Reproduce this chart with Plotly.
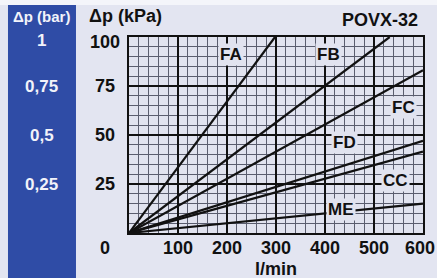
import plotly.graph_objects as go

# ---- data ----
series_names = ["FA", "FB", "FC", "FD", "CC", "ME"]
flow_FA = [0, 298]; dp_FA = [0, 100]
flow_FB = [0, 532]; dp_FB = [0, 100]
flow_FC = [0, 600]; dp_FC = [0, 83]
flow_FD = [0, 600]; dp_FD = [0, 47]
flow_CC = [0, 600]; dp_CC = [0, 41.5]
flow_ME = [0, 600]; dp_ME = [0, 15]

x_ticks = [100, 200, 300, 400, 500, 600]
x_tick_labels = ["100", "200", "300", "400", "500", "600"]
kpa_ticks = [100, 75, 50, 25, 0]
kpa_labels = ["100", "75", "50", "25", "0"]
bar_labels = ["1", "0,75", "0,5", "0,25"]

label_pos = {  # label anchor positions (flow, dp)
    "FA": (208, 91), "FB": (408, 91), "FC": (561, 64),
    "FD": (439, 46), "CC": (543, 27), "ME": (433, 12),
}

BG = "#E3E5F1"
PLOT_BG = "#E1E3EF"
BLUE = "#2F4CA6"
FONT = "Liberation Sans, Arial, sans-serif"

fig = go.Figure()
flows = [flow_FA, flow_FB, flow_FC, flow_FD, flow_CC, flow_ME]
dps = [dp_FA, dp_FB, dp_FC, dp_FD, dp_CC, dp_ME]
for name, fx, dy in zip(series_names, flows, dps):
    fig.add_trace(go.Scatter(x=fx, y=dy, mode="lines", name=name,
                             line=dict(color="#111111", width=2.2),
                             showlegend=False, hoverinfo="skip"))

annotations = []
for name in series_names:
    lx, ly = label_pos[name]
    annotations.append(dict(x=lx, y=ly, xref="x", yref="y", text="<b>%s</b>" % name,
                            showarrow=False, bgcolor=PLOT_BG, borderpad=1,
                            font=dict(family=FONT, size=17, color="#111111")))

# x tick labels (flow)
for v, t in zip(x_ticks, x_tick_labels):
    xs = -3 if v == 600 else 0
    annotations.append(dict(x=v, y=0, xref="x", yref="y", text="<b>%s</b>" % t,
                            showarrow=False, xanchor="center", yanchor="middle",
                            yshift=-15, xshift=xs,
                            font=dict(family=FONT, size=18, color="#111111")))

# kPa tick labels (left of the axis)
for v, t in zip(kpa_ticks, kpa_labels):
    shift = 0
    if v == 100:
        shift = -5
    if v == 0:
        shift = -15
    annotations.append(dict(x=-0.082, y=v, xref="paper", yref="y", text="<b>%s</b>" % t,
                            showarrow=False, xanchor="center", yshift=shift,
                            font=dict(family=FONT, size=18, color="#111111")))
# bar labels in the blue panel
for v, t in zip(kpa_ticks[:4], bar_labels):
    shift = -3 if v == 100 else 0
    annotations.append(dict(x=-0.296, y=v, xref="paper", yref="y", text="<b>%s</b>" % t,
                            showarrow=False, xanchor="center", yshift=shift,
                            font=dict(family=FONT, size=17, color="#F2F3FA")))

annotations += [
    dict(x=-0.143, y=1.107, xref="paper", yref="paper", text="<b>Δp (kPa)</b>",
         showarrow=False, xanchor="left", yanchor="middle",
         font=dict(family=FONT, size=18, color="#111111")),
    dict(x=-0.296, y=1.107, xref="paper", yref="paper", text="<b>Δp (bar)</b>",
         showarrow=False, xanchor="center", yanchor="middle",
         font=dict(family=FONT, size=15, color="#F2F3FA")),
    dict(x=0.99, y=1.087, xref="paper", yref="paper", text="<b>POVX-32</b>",
         showarrow=False, xanchor="right", yanchor="middle",
         font=dict(family=FONT, size=18, color="#111111")),
    dict(x=300, y=-0.186, xref="x", yref="paper", text="<b>l/min</b>",
         showarrow=False, xanchor="center", yanchor="middle",
         font=dict(family=FONT, size=18, color="#111111")),
]

shapes = [
    dict(type="rect", xref="paper", yref="paper", x0=-0.5, x1=1.1, y0=1.163, y1=1.25,
         fillcolor="#F4F5FA", line=dict(width=0), layer="below"),
    dict(type="rect", xref="paper", yref="paper", x0=-0.4116, x1=-0.1803, y0=-0.3, y1=1.163,
         fillcolor=BLUE, line=dict(width=0), layer="below"),
]

fig.update_layout(
    width=437, height=278,
    margin=dict(l=129, r=14, t=37, b=45, autoexpand=False),
    paper_bgcolor=BG, plot_bgcolor=PLOT_BG,
    annotations=annotations, shapes=shapes,
    xaxis=dict(range=[0, 600], tickvals=x_ticks, showticklabels=False,
               showgrid=True, gridcolor="#111111", gridwidth=1.5,
               minor=dict(dtick=20, showgrid=True, gridcolor="#5A5D6E", gridwidth=1),
               showline=True, linecolor="#111111", linewidth=1.5, mirror=True,
               zeroline=False, ticks=""),
    yaxis=dict(range=[0, 100], dtick=25, showticklabels=False,
               showgrid=True, gridcolor="#111111", gridwidth=1.5,
               minor=dict(dtick=5, showgrid=True, gridcolor="#5A5D6E", gridwidth=1),
               showline=True, linecolor="#111111", linewidth=1.5, mirror=True,
               zeroline=False, ticks=""),
)

fig.write_html("out.html", config={"displayModeBar": False},
               post_script="document.body.style.margin='0';document.body.style.padding='0';")
